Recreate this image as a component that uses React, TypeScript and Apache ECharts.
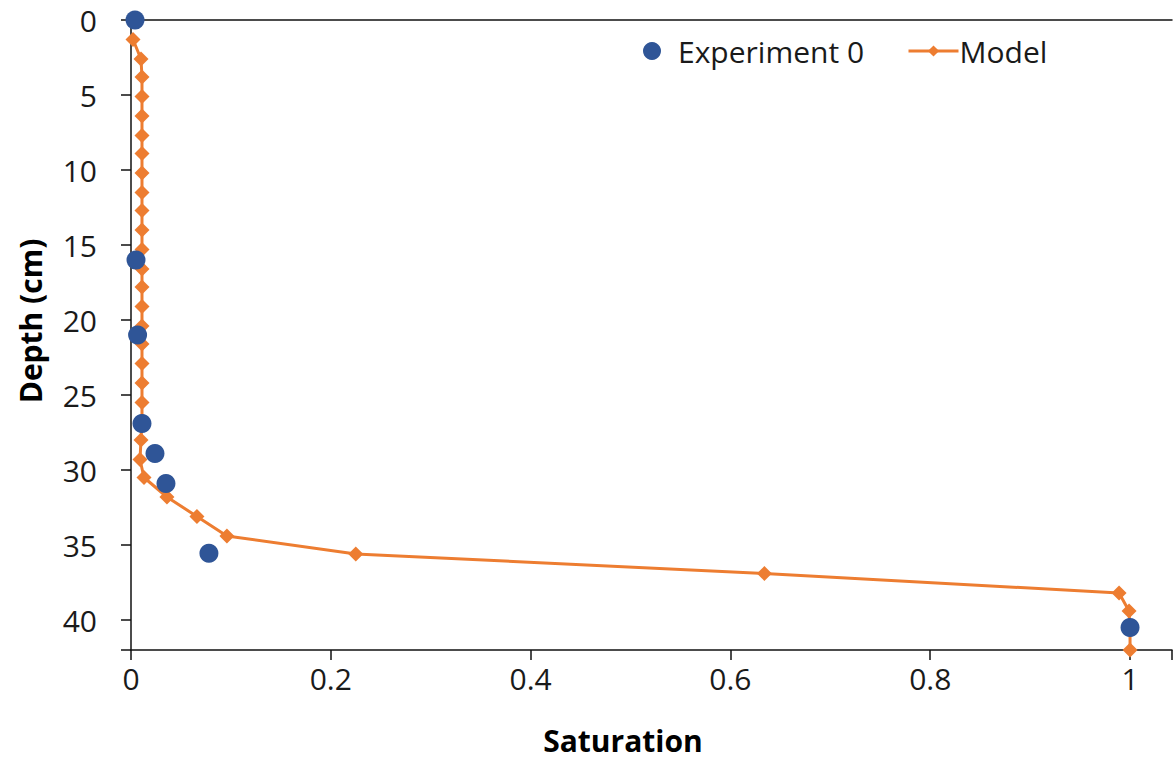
import React, { useEffect, useRef } from "react";
import * as echarts from "echarts";

const expSaturation = [0.004, 0.005, 0.0066, 0.011, 0.024, 0.035, 0.078, 1.0];
const expDepth = [0, 16.0, 21.0, 26.9, 28.9, 30.9, 35.55, 40.5];

const modelDepth = [
  1.3, 2.6, 3.8, 5.1, 6.4, 7.7, 8.9, 10.2, 11.5, 12.7, 14.0, 15.3, 16.6, 17.8, 19.1, 20.4, 21.6,
  22.9, 24.2, 25.5, 26.7, 28.0, 29.3, 30.5, 31.8, 33.1, 34.4, 35.6, 36.9, 38.2, 39.4, 40.7, 42.0,
];
const modelSaturation = [
  0.002, 0.01, 0.011, 0.011, 0.011, 0.011, 0.011, 0.011, 0.011, 0.011, 0.011, 0.011, 0.011, 0.011,
  0.011, 0.011, 0.011, 0.011, 0.011, 0.011, 0.011, 0.01, 0.009, 0.013, 0.036, 0.066, 0.096, 0.225,
  0.634, 0.989, 0.999, 1.0, 1.0,
];

const xTitle = "Saturation";
const yTitle = "Depth (cm)";
const seriesNames = ["Experiment 0", "Model"];

const FONT = "Open Sans";
const FS = 30;
const TXT = "#1a1a1a";
const ORANGE = "#ED7D31";
const BLUE = "#2F5597";

export default function App() {
  const ref = useRef<HTMLDivElement>(null);
  useEffect(() => {
    if (!ref.current) return;
    const chart = echarts.init(ref.current, undefined, { renderer: "svg" });
    const xMax = 1.042;
    chart.setOption({
      animation: false,
      backgroundColor: "#ffffff",
      grid: { left: 131, top: 20, right: 0, bottom: 109, containLabel: false },
      legend: [
        {
          data: [seriesNames[0]],
          left: 638,
          top: 31,
          itemWidth: 18,
          itemHeight: 18,
          itemGap: 0,
          textStyle: { fontFamily: FONT, fontSize: FS, color: TXT, padding: [0, 0, 0, 12] },
        },
        {
          data: [seriesNames[1]],
          left: 902,
          top: 31,
          itemWidth: 50,
          itemHeight: 14,
          itemGap: 0,
          lineStyle: { width: 3 },
          textStyle: { fontFamily: FONT, fontSize: FS, color: TXT, padding: [0, 0, 0, -4] },
        },
      ],
      xAxis: [
        {
          type: "value",
          position: "bottom",
          min: 0,
          max: xMax,
          interval: 0.2,
          axisLine: { show: true, onZero: false, lineStyle: { color: "#111", width: 1.5 } },
          axisTick: { show: true, inside: false, length: 10, lineStyle: { color: "#111", width: 1.5 } },
          axisLabel: {
            fontFamily: FONT,
            fontSize: FS,
            color: TXT,
            margin: 13,
            formatter: (v: number) => {
              const r = Math.round(v * 5);
              if (Math.abs(v * 5 - r) > 1e-6) return "";
              return String(Number((r / 5).toFixed(1)));
            },
          },
          splitLine: { show: false },
        },
        {
          type: "value",
          position: "top",
          min: 0,
          max: xMax,
          axisLine: { show: true, onZero: false, lineStyle: { color: "#111", width: 1.5 } },
          axisTick: { show: false },
          axisLabel: { show: false },
          splitLine: { show: false },
        },
      ],
      yAxis: {
        type: "value",
        inverse: true,
        min: 0,
        max: 42,
        interval: 5,
        axisLine: { show: true, onZero: false, lineStyle: { color: "#111", width: 1.5 } },
        axisTick: { show: true, inside: false, length: 10, lineStyle: { color: "#111", width: 1.5 } },
        axisLabel: {
          fontFamily: FONT,
          fontSize: FS,
          color: TXT,
          margin: 34,
          formatter: (v: number) => (v % 5 === 0 ? String(v) : ""),
        },
        splitLine: { show: false },
      },
      graphic: [
        {
          type: "text",
          x: 30,
          y: 321,
          rotation: Math.PI / 2,
          style: {
            text: yTitle,
            fontFamily: FONT,
            fontWeight: "bold",
            fontSize: FS,
            fill: "#000",
            textAlign: "center",
            textVerticalAlign: "middle",
          },
        },
        {
          type: "text",
          x: 623,
          y: 740,
          style: {
            text: xTitle,
            fontFamily: FONT,
            fontWeight: "bold",
            fontSize: FS,
            fill: "#000",
            textAlign: "center",
            textVerticalAlign: "middle",
          },
        },
      ],
      series: [
        {
          name: seriesNames[1],
          type: "line",
          xAxisIndex: 0,
          data: modelSaturation.map((s, i) => [s, modelDepth[i]]),
          symbol: "diamond",
          symbolSize: 15,
          showAllSymbol: true,
          itemStyle: { color: ORANGE },
          lineStyle: { color: ORANGE, width: 3 },
          z: 2,
        },
        {
          name: seriesNames[0],
          type: "scatter",
          xAxisIndex: 0,
          data: expSaturation.map((s, i) => [s, expDepth[i]]),
          symbol: "circle",
          symbolSize: 19,
          itemStyle: { color: BLUE, opacity: 1 },
          z: 3,
        },
      ],
    });
    return () => chart.dispose();
  }, []);
  return (
    <div
      ref={ref}
      style={{ position: "fixed", left: 0, top: 0, width: 1175, height: 759, background: "#fff" }}
    />
  );
}
